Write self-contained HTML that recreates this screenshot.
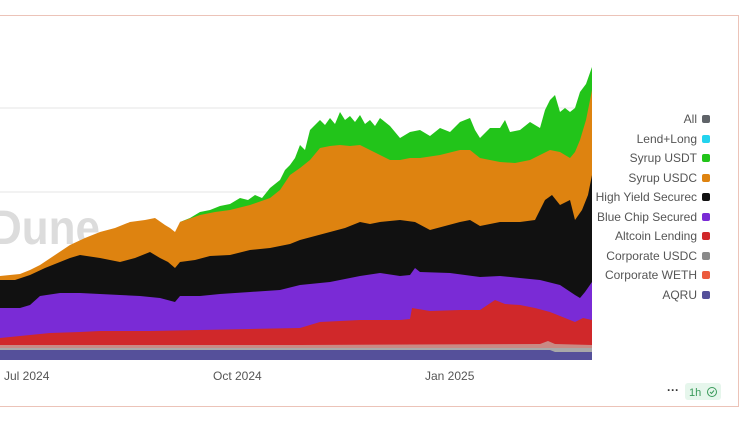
<!DOCTYPE html>
<html><head><meta charset="utf-8"><style>
body{margin:0;width:750px;height:421px;background:#fff;overflow:hidden;font-family:"Liberation Sans",sans-serif;position:relative}
.frame{position:absolute;left:-10px;top:15px;width:749px;height:392px;border:1px solid #ecc3b8;box-sizing:border-box}
.lg{position:absolute;right:40px;font-size:12px;color:#555;text-align:right;white-space:nowrap;line-height:14px}
.lg i{display:inline-block;width:8px;height:8px;border-radius:2px;margin-left:5px;vertical-align:0px}
</style></head><body>
<div class="frame"></div>
<svg width="750" height="421" style="position:absolute;left:0;top:0">
<line x1="0" y1="108" x2="592" y2="108" stroke="#e4e4e4"/>
<line x1="0" y1="192" x2="592" y2="192" stroke="#e4e4e4"/>
<text x="-10" y="244" font-size="48" fill="#dcdcdc" font-family="Liberation Sans" font-weight="bold" textLength="110" lengthAdjust="spacingAndGlyphs">Dune</text>
<g>
<polygon fill="#22c41a" points="180,234 180,222 190,218 200,212 210,210 220,206 230,204 240,198 248,200 255,195 262,198 270,188 280,180 285,170 290,165 295,158 300,145 305,150 310,130 320,120 325,125 330,118 335,124 340,112 345,120 350,116 355,122 360,115 365,124 370,120 375,126 380,118 390,126 400,138 410,132 420,130 430,136 440,128 450,132 460,122 470,118 475,130 480,138 490,128 500,128 505,120 510,132 520,130 530,122 540,128 545,110 550,100 555,95 560,112 565,108 570,112 575,108 580,92 586,84 592,67 592,360 180,360"/>
<polygon fill="#de8310" points="0,276 20,274 30,270 40,265 55,255 70,245 85,238 100,232 115,228 130,222 145,220 155,218 165,225 170,228 175,232 180,222 200,215 215,212 230,210 250,205 270,198 280,190 290,175 300,168 310,160 320,148 330,146 340,145 350,146 360,145 370,150 380,155 390,160 400,160 410,158 420,158 440,155 460,150 470,150 480,158 500,162 515,163 530,160 540,155 550,150 560,152 570,158 575,152 580,140 586,120 592,90 592,360 0,360"/>
<polygon fill="#111111" points="0,280 15,280 30,275 45,268 60,262 70,258 80,255 100,258 120,262 135,258 150,252 160,258 168,262 175,268 180,262 195,260 210,256 230,255 250,250 270,248 290,244 300,240 315,236 330,232 345,228 360,222 370,224 380,222 400,220 415,222 430,230 445,226 460,222 470,220 480,226 500,222 520,222 535,220 545,200 552,195 560,205 570,200 575,220 582,210 588,195 592,175 592,360 0,360"/>
<polygon fill="#7a2bd6" points="0,308 20,308 30,305 40,296 60,293 80,293 100,294 120,295 140,296 160,298 175,302 180,296 200,296 220,294 250,292 280,290 300,285 330,282 360,276 380,273 400,276 410,275 415,268 420,272 450,273 480,277 500,276 520,278 540,280 560,285 575,295 580,298 585,292 592,282 592,360 0,360"/>
<polygon fill="#d0282a" points="0,338 30,335 50,333 80,332 100,331 150,331 200,330 250,329 300,328 320,322 360,320 400,320 410,319 412,308 430,311 460,310 480,310 495,300 505,304 520,305 535,308 550,312 565,318 575,322 583,318 592,320 592,360 0,360"/>
<polygon fill="#c98a85" points="0,345 300,345 540,344 548,341 555,344 592,345 592,360 0,360"/>
<polygon fill="#a8a8a8" points="0,348 592,348 592,360 0,360"/>
<polygon fill="#55509a" points="0,350 550,350 555,352 592,352 592,360 0,360"/>
</g>
<g font-size="12" fill="#555" font-family="Liberation Sans">
<text x="4" y="380">Jul 2024</text>
<text x="213" y="380">Oct 2024</text>
<text x="425" y="380">Jan 2025</text>
</g>
<text x="667" y="394" font-size="12" fill="#333" font-weight="bold">···</text>
<rect x="685" y="383" width="36" height="17" rx="3" fill="#e6f6ec"/>
<text x="689" y="396" font-size="11" fill="#3a9a5a">1h</text>
<circle cx="712" cy="392" r="4.5" fill="none" stroke="#3a9a5a" stroke-width="1"/>
<path d="M710 392 l1.5 1.5 l2.5 -3" fill="none" stroke="#3a9a5a" stroke-width="1"/>
</svg>
<div class="lg" style="top:112px">All<i style="background:#5f6368"></i></div>
<div class="lg" style="top:132px">Lend+Long<i style="background:#22d3ee"></i></div>
<div class="lg" style="top:151px">Syrup USDT<i style="background:#22c41a"></i></div>
<div class="lg" style="top:171px">Syrup USDC<i style="background:#de8310"></i></div>
<div class="lg" style="top:190px">High Yield Securec<i style="background:#111"></i></div>
<div class="lg" style="top:210px">Blue Chip Secured<i style="background:#7a2bd6"></i></div>
<div class="lg" style="top:229px">Altcoin Lending<i style="background:#d0282a"></i></div>
<div class="lg" style="top:249px">Corporate USDC<i style="background:#8a8a8a"></i></div>
<div class="lg" style="top:268px">Corporate WETH<i style="background:#ec5b3e"></i></div>
<div class="lg" style="top:288px">AQRU<i style="background:#55509a"></i></div>
</body></html>
